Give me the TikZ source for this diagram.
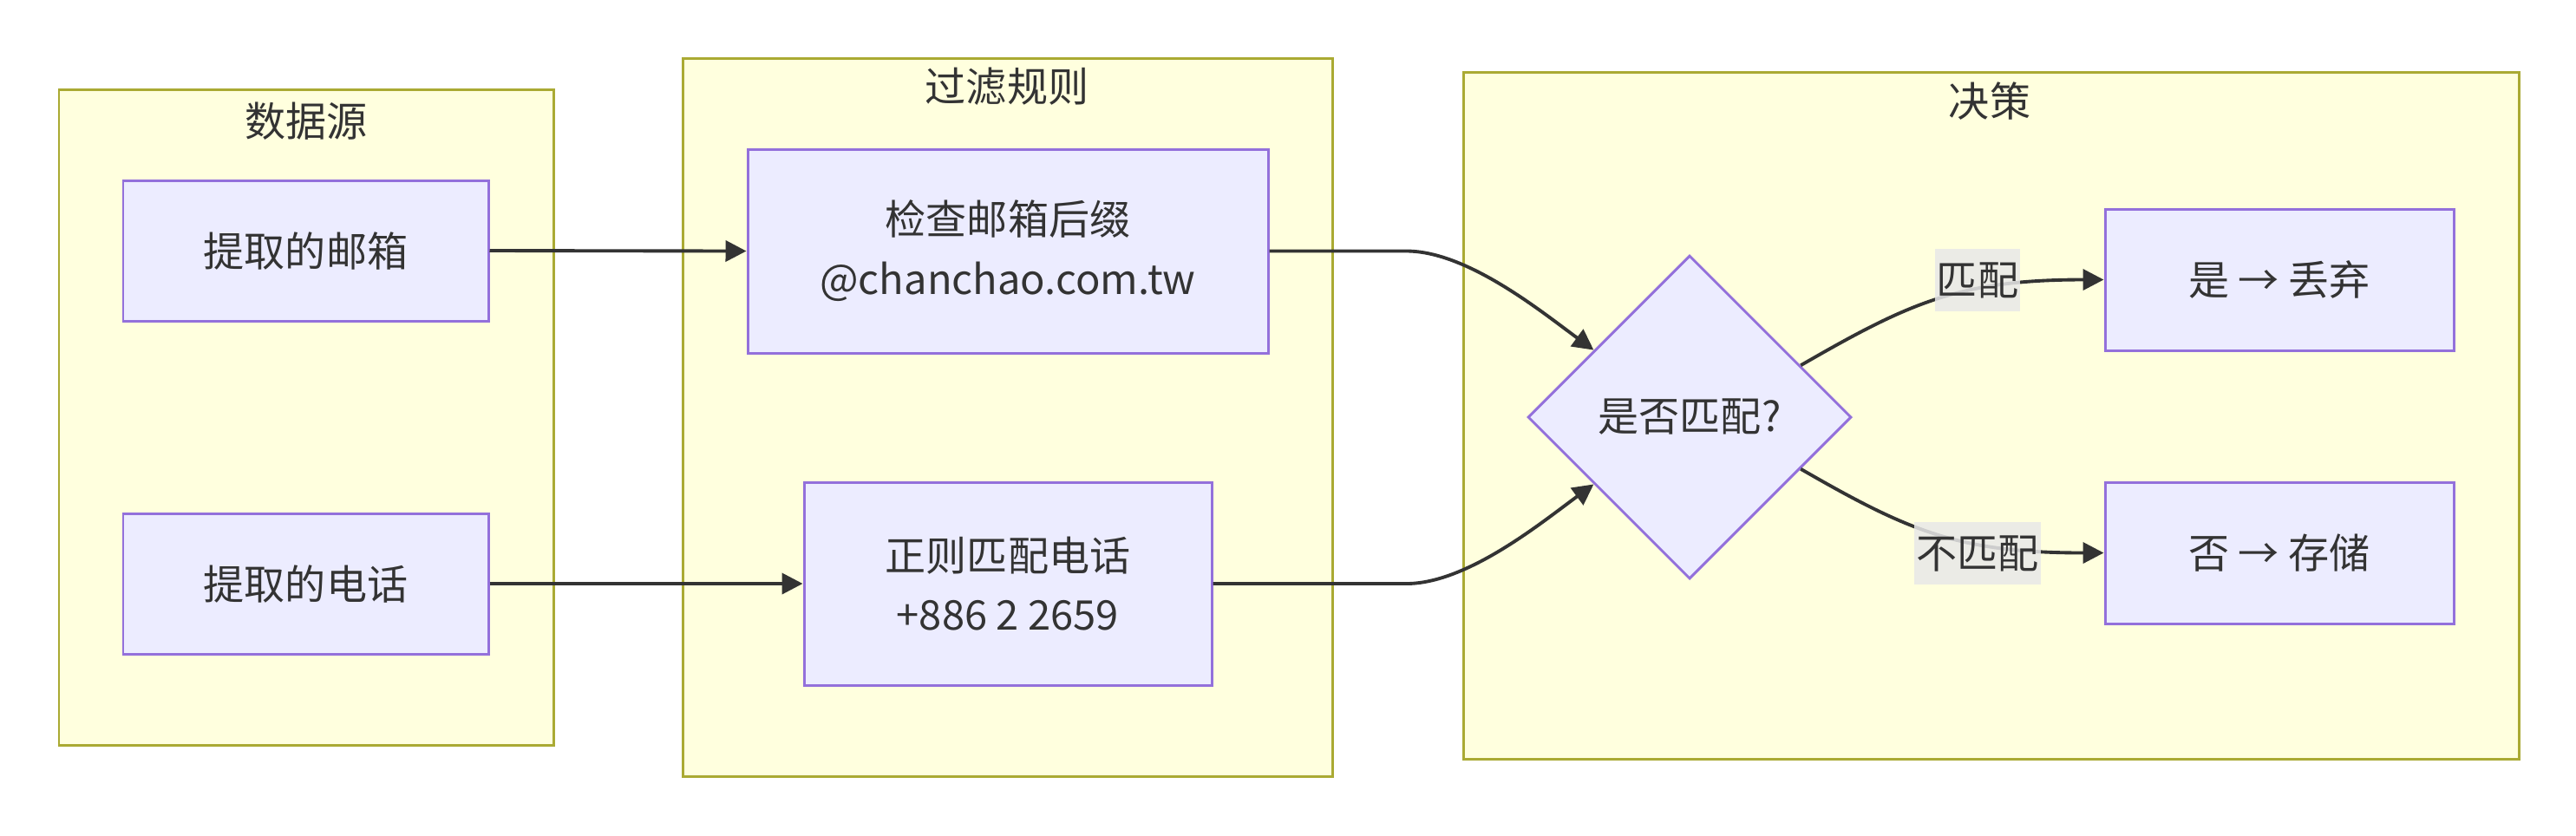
\documentclass[tikz,border=0pt]{standalone}
\usepackage{fontspec}
\setmainfont{Noto Sans CJK SC}
\usetikzlibrary{arrows.meta,shapes.geometric}
\definecolor{clusterfill}{HTML}{FFFFDE}
\definecolor{clusterline}{HTML}{AAAA33}
\definecolor{nodefill}{HTML}{ECECFF}
\definecolor{nodeline}{HTML}{9370DB}
\definecolor{edgeline}{HTML}{333333}
\definecolor{labelfill}{HTML}{E8E8E8}
\definecolor{textgray}{HTML}{333333}

\begin{document}
\begin{tikzpicture}[font=\fontsize{13.4pt}{19.6pt}\selectfont,text=textgray,
  cluster/.style={draw=clusterline,fill=clusterfill,line width=0.85pt},
  box/.style={draw=nodeline,fill=nodefill,line width=0.85pt,align=center,inner sep=0pt},
  choice/.style={diamond,draw=nodeline,fill=nodefill,line width=0.85pt,inner sep=0pt,minimum width=3.73cm,minimum height=3.73cm},
  edge/.style={draw=edgeline,line width=1.1pt,-{Triangle[length=0.24cm,width=0.24cm]}},
  tag/.style={fill=labelfill,fill opacity=0.85,text opacity=1,inner xsep=0.02cm,inner ysep=0pt,minimum height=0.72cm}]
\useasboundingbox (0,0) rectangle (29.70,-9.63);
\draw[cluster] (0.68,-1.03) rectangle (6.38,-8.59);
\draw[cluster] (7.87,-0.67) rectangle (15.36,-8.95);
\draw[cluster] (16.87,-0.83) rectangle (29.04,-8.75);
\node (srctitle) at (3.53,-1.40) {数据源};
\node (ruletitle) at (11.61,-1.00) {过滤规则};
\node (dectitle) at (22.94,-1.17) {决策};
\node[box,minimum width=4.21cm,minimum height=1.62cm] (srcmail) at (3.525,-2.89) {提取的邮箱};
\node[box,minimum width=4.21cm,minimum height=1.62cm] (srcphone) at (3.525,-6.73) {提取的电话};
\node[box,minimum width=6.00cm,minimum height=2.35cm] (chkmail) at (11.62,-2.895) {检查邮箱后缀\\@chanchao.com.tw};
\node[box,minimum width=4.70cm,minimum height=2.34cm] (chkphone) at (11.62,-6.73) {正则匹配电话\\+886 2 2659};
\node[choice] (decide) at (19.48,-4.81) {是否匹配?};
\node[box,minimum width=4.02cm,minimum height=1.63cm] (drop) at (26.28,-3.225) {是 → 丢弃};
\node[box,minimum width=4.02cm,minimum height=1.63cm] (keep) at (26.28,-6.375) {否 → 存储};
\draw[edge] (srcmail.east) -- (chkmail.west);
\draw[edge] (srcphone.east) -- (chkphone.west);
\draw[edge] (chkmail.east) -- ++(1.58,0) .. controls +(0.7,0) and +(-0.6,0.44) .. (decide.145);
\draw[edge] (chkphone.east) -- ++(2.23,0) .. controls +(0.7,0) and +(-0.6,-0.44) .. (decide.215);
\draw[edge] (decide.25) .. controls +(1.25,0.72) and +(-1.67,0) .. (drop.west);
\draw[edge] (decide.-25) .. controls +(1.25,-0.72) and +(-1.67,0) .. (keep.west);
\node[tag] (yeslabel) at (22.80,-3.23) {匹配};
\node[tag] (nolabel) at (22.80,-6.38) {不匹配};
\end{tikzpicture}
\end{document}
